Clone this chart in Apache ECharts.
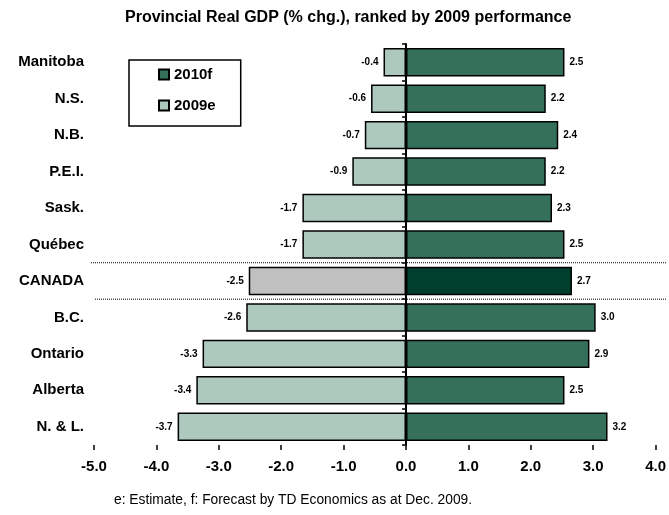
<!DOCTYPE html>
<html>
<head>
    <meta charset="UTF-8" />
    <title>Provincial Real GDP</title>
    <script src="https://cdn.jsdelivr.net/npm/echarts@6/dist/echarts.min.js"></script>
    <style>
        html, body { margin: 0; padding: 0; background: #fff; }
        #main { width: 669px; height: 515px; }
    </style>
</head>
<body>
    <div id="main"></div>
    <script>
        var categories = ['Manitoba', 'N.S.', 'N.B.', 'P.E.I.', 'Sask.', 'Québec', 'CANADA', 'B.C.', 'Ontario', 'Alberta', 'N. & L.'];
        var values2009 = [-0.36, -0.56, -0.66, -0.86, -1.66, -1.66, -2.52, -2.56, -3.26, -3.36, -3.66];
        var values2010 = [2.54, 2.24, 2.44, 2.24, 2.34, 2.54, 2.66, 3.04, 2.94, 2.54, 3.23];
        var xMin = -5, xMax = 4, xStep = 1;

        var font = 'Liberation Sans, Arial, sans-serif';
        var col2010 = '#34705a', col2009 = '#adc8bc';
        var canada2010 = '#003f2e', canada2009 = '#c0c0c0';

        function build(vals, normal, special) {
            return vals.map(function (v, i) {
                if (categories[i] === 'CANADA') {
                    return { value: v, itemStyle: { color: special } };
                }
                return v;
            });
        }

        var myChart = echarts.init(document.getElementById('main'));
        var option = {
            backgroundColor: '#fff',
            animation: false,
            title: [
                {
                    text: 'Provincial Real GDP (% chg.), ranked by 2009 performance',
                    left: 120, top: 5,
                    textStyle: { fontFamily: font, fontSize: 16, fontWeight: 'bold', color: '#000' }
                },
                {
                    text: 'e: Estimate, f: Forecast by TD Economics as at Dec. 2009.',
                    left: 109, top: 488,
                    textStyle: { fontFamily: font, fontSize: 13.8, fontWeight: 'normal', color: '#000' }
                }
            ],
            legend: {
                orient: 'vertical',
                left: 129, top: 60,
                data: ['2010f', '2009e'],
                icon: 'rect',
                itemWidth: 10, itemHeight: 10,
                itemGap: 16,
                padding: [7, 25, 13, 29],
                borderColor: '#000', borderWidth: 1.5,
                textStyle: { fontFamily: font, fontSize: 15, fontWeight: 'bold', color: '#000' }
            },
            grid: { left: 94, right: 10, top: 44, bottom: 70 },
            xAxis: {
                type: 'value',
                min: xMin, max: xMax, interval: xStep,
                axisLine: { lineStyle: { color: '#000', width: 1.5 } },
                axisTick: { show: true, length: 5, lineStyle: { color: '#000', width: 1.5 } },
                splitLine: { show: false },
                axisLabel: {
                    margin: 14, color: '#000', fontFamily: font, fontSize: 15, fontWeight: 'bold',
                    formatter: function (v) { return v.toFixed(1); }
                }
            },
            yAxis: [
                {
                    type: 'category', inverse: true, data: categories,
                    axisLine: { show: false, onZero: false },
                    axisTick: { show: false },
                    axisLabel: { margin: 10, color: '#000', fontFamily: font, fontSize: 15, fontWeight: 'bold' }
                },
                {
                    type: 'category', inverse: true, data: categories, position: 'left', z: 10,
                    axisLine: { show: true, onZero: true, lineStyle: { color: '#000', width: 2 } },
                    axisTick: { show: true, length: 4, lineStyle: { color: '#000', width: 1.5 } },
                    axisLabel: { show: false }
                }
            ],
            series: [
                {
                    name: '2010f', type: 'bar',
                    data: build(values2010, col2010, canada2010),
                    barWidth: '78%', barGap: '-100%',
                    itemStyle: { color: col2010, borderColor: '#000', borderWidth: 1.5 },
                    label: {
                        show: true, position: 'right', distance: 5,
                        fontFamily: font, fontSize: 10, fontWeight: 'bold', color: '#000',
                        formatter: function (p) { return p.value.toFixed(1); }
                    }
                },
                {
                    name: '2009e', type: 'bar',
                    data: build(values2009, col2009, canada2009),
                    barWidth: '78%', barGap: '-100%',
                    itemStyle: { color: col2009, borderColor: '#000', borderWidth: 1.5 },
                    label: {
                        show: true, position: 'left', distance: 5,
                        fontFamily: font, fontSize: 10, fontWeight: 'bold', color: '#000',
                        formatter: function (p) { return p.value.toFixed(1); }
                    }
                }
            ]
        };
        myChart.setOption(option);

        // dotted separators around the CANADA row
        var idx = categories.indexOf('CANADA');
        var yA = myChart.convertToPixel({ yAxisIndex: 0 }, categories[idx - 1]);
        var yB = myChart.convertToPixel({ yAxisIndex: 0 }, categories[idx]);
        var yC = myChart.convertToPixel({ yAxisIndex: 0 }, categories[idx + 1]);
        var dotted = { stroke: '#000', lineWidth: 1, lineDash: [1, 1] };
        myChart.setOption({
            graphic: [
                { type: 'line', z: 20, shape: { x1: 91, y1: (yA + yB) / 2, x2: 667, y2: (yA + yB) / 2 }, style: dotted },
                { type: 'line', z: 20, shape: { x1: 95, y1: (yB + yC) / 2, x2: 667, y2: (yB + yC) / 2 }, style: dotted }
            ]
        });
    </script>
</body>
</html>
